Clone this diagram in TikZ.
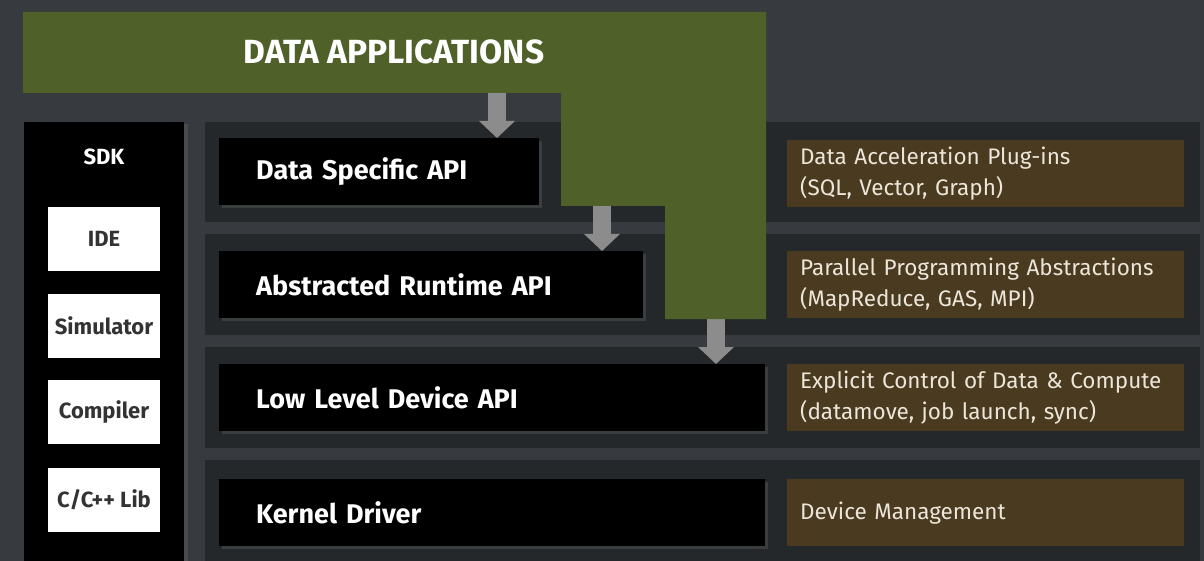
\documentclass[tikz,border=0pt]{standalone}
\usepackage{fontspec}
\setmainfont{Fira Sans}
\usetikzlibrary{arrows.meta,shadows}
\definecolor{bgcol}{HTML}{373B3F}
\definecolor{bandcol}{HTML}{25282A}
\definecolor{appgreen}{HTML}{506029}
\definecolor{plugbrown}{HTML}{4A3B20}
\definecolor{arrowgray}{HTML}{8C8C8C}
\definecolor{sdktext}{HTML}{333333}
\definecolor{plugtext}{HTML}{ECE6DA}
\tikzset{
  band/.style={fill=bandcol, draw=none},
  apibox/.style={fill=black, draw=none, anchor=north west, minimum height=67pt,
    inner xsep=37pt, align=left, text=white, font=\fontsize{27}{30}\selectfont\bfseries,
    drop shadow={shadow xshift=3pt, shadow yshift=-3pt, opacity=0.25}},
  plugbox/.style={fill=plugbrown, draw=none, anchor=north west, minimum width=397pt,
    minimum height=67pt, text width=371pt, inner xsep=13pt, align=left, text=plugtext,
    font=\fontsize{22.5}{31}\selectfont},
  toolbox/.style={fill=white, draw=none, minimum width=112pt, minimum height=64pt,
    text=sdktext, font=\fontsize{22}{24}\selectfont\bfseries},
  flow/.style={draw=arrowgray, line width=18pt, -{Triangle[width=35pt,length=17pt]}}
}
\begin{document}
\begin{tikzpicture}[x=1pt,y=-1pt]
  % canvas
  \fill[bgcol] (0,0) rectangle (1204,561);
  \useasboundingbox (0,0) rectangle (1204,561);

  % layer bands
  \fill[band] (205,122) rectangle (1200,222);
  \fill[band] (205,234) rectangle (1200,335);
  \fill[band] (205,347) rectangle (1200,448);
  \fill[band] (205,460) rectangle (1200,561);

  % SDK column
  \node[fill=black, draw=none, anchor=north west, minimum width=160pt, minimum height=439pt,
    inner sep=0pt, drop shadow={shadow xshift=4pt, shadow yshift=-2pt, opacity=0.25}]
    (sdk) at (24,122) {};
  \node[text=white, font=\fontsize{22}{24}\selectfont\bfseries] (sdklabel) at (104,157) {SDK};
  \node[toolbox] (ide) at (104,239) {IDE};
  \node[toolbox] (sim) at (104,326) {Simulator};
  \node[toolbox] (comp) at (104,412) {Compiler};
  \node[toolbox] (clib) at (104,499.5) {C/C++ Lib};

  % API layers
  \node[apibox, minimum width=320pt, text width=246pt] (dsapi) at (219,138) {Data Specific API};
  \node[apibox, minimum width=424pt, text width=350pt] (rtapi) at (219,251) {Abstracted Runtime API};
  \node[apibox, minimum width=546pt, text width=472pt] (llapi) at (219,364) {Low Level Device API};
  \node[apibox, minimum width=546pt, text width=472pt] (kdrv) at (219,479) {Kernel Driver};

  % plug-in descriptions
  \node[plugbox] (plug1) at (787,140) {Data Acceleration Plug-ins\\(SQL, Vector, Graph)};
  \node[plugbox] (plug2) at (787,251) {Parallel Programming Abstractions\\(MapReduce, GAS, MPI)};
  \node[plugbox] (plug3) at (787,364) {Explicit Control of Data \& Compute\\(datamove, job launch, sync)};
  \node[plugbox] (plug4) at (787,479) {Device Management};

  % entry points from the application block
  \coordinate (out1) at (497,90);
  \coordinate (out2) at (602,200);
  \coordinate (out3) at (716,312);
  \draw[flow] (out1) -- (out1 |- dsapi.north);
  \draw[flow] (out2) -- (out2 |- rtapi.north);
  \draw[flow] (out3) -- (out3 |- llapi.north);

  % data applications block (stepped)
  \fill[appgreen] (23,12) -- (766,12) -- (766,319) -- (665,319) -- (665,206)
    -- (561,206) -- (561,93) -- (23,93) -- cycle;
  \node[text=white, font=\fontsize{33.5}{36}\selectfont\bfseries] (apps) at (394,52) {DATA APPLICATIONS};
\end{tikzpicture}
\end{document}
